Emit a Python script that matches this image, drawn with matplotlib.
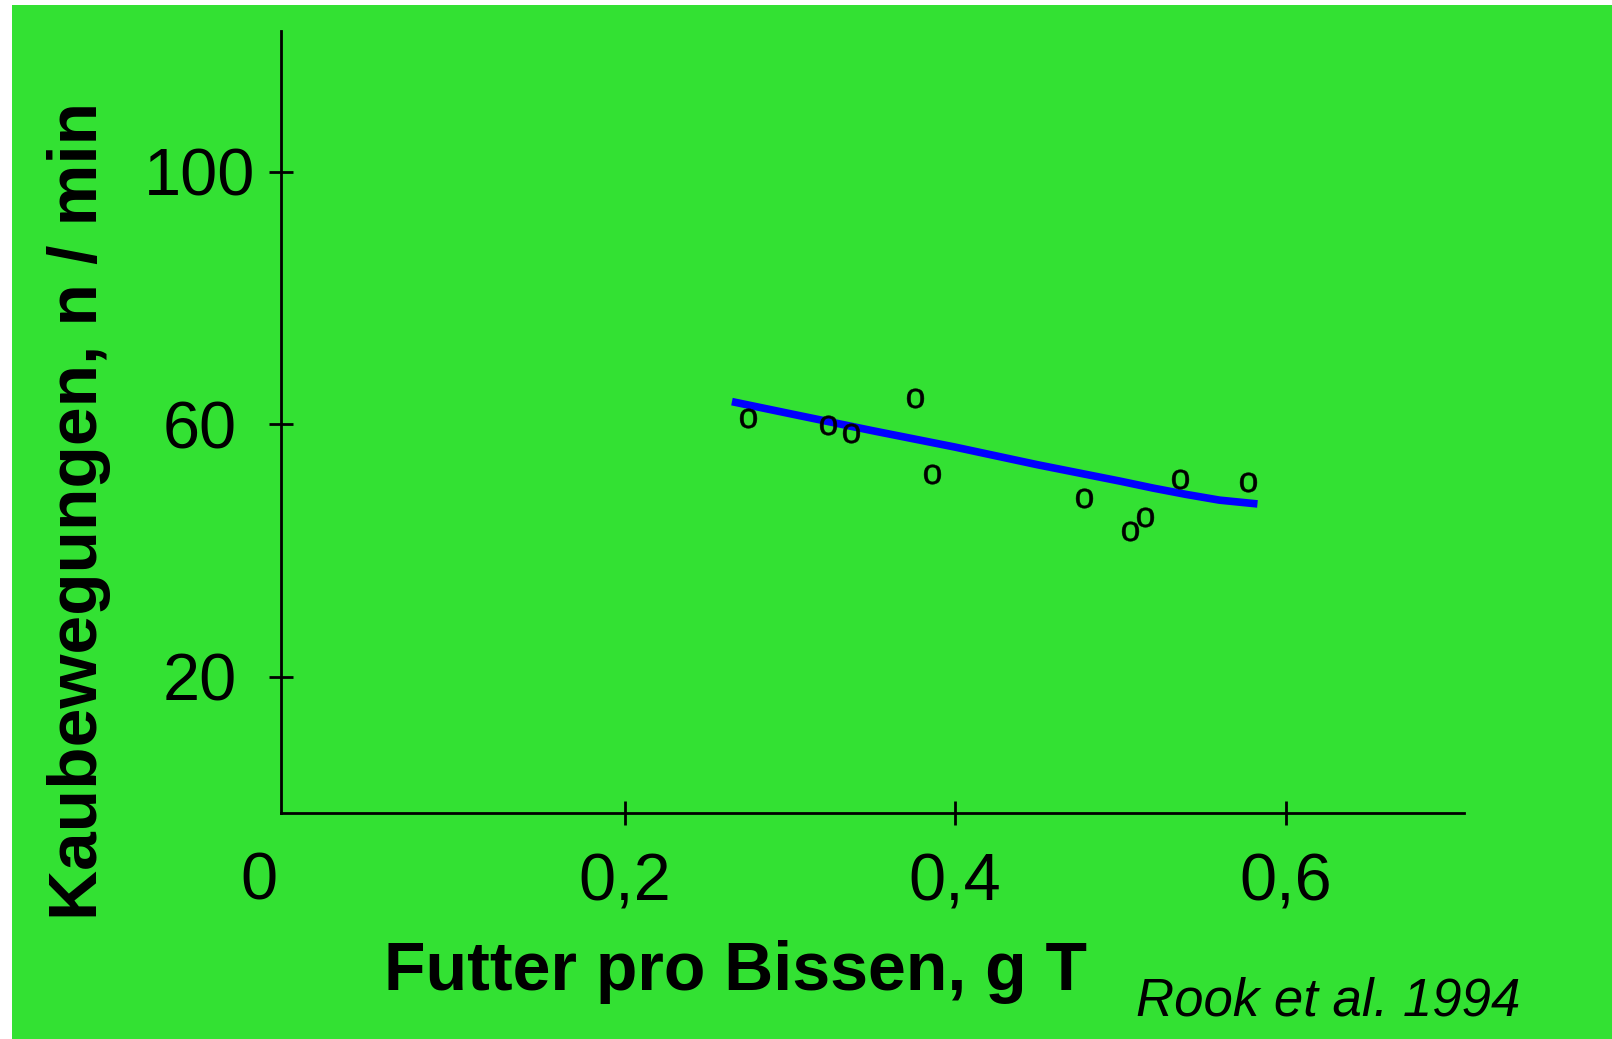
import matplotlib.pyplot as plt
from matplotlib.patches import Rectangle

# chewing movements vs. feed per bite (Rook et al. 1994)
bite_x = [0.275, 0.323, 0.337, 0.376, 0.386, 0.478, 0.506, 0.515, 0.536, 0.577]
chew_y = [61.0, 59.9, 58.6, 64.2, 52.1, 48.4, 43.1, 45.4, 51.3, 50.9]

fit_x = [0.265, 0.30, 0.35, 0.40, 0.45, 0.50, 0.52, 0.54, 0.56, 0.583]
fit_y = [63.6, 61.7, 59.0, 56.4, 53.6, 51.0, 49.9, 48.9, 48.0, 47.4]

xticks = [0.2, 0.4, 0.6]
xlabels = ['0,2', '0,4', '0,6']
yticks = [20, 60, 100]
ylabels = ['20', '60', '100']

green = '#33e133'
plt.rcParams['font.family'] = ['Liberation Sans', 'DejaVu Sans']

fig = plt.figure(figsize=(16.12, 10.39), dpi=100)
fig.patch.set_facecolor('white')
fig.patches.append(Rectangle((12 / 1612, 0), 1, 1 - 5 / 1039, transform=fig.transFigure,
                             facecolor=green, edgecolor='none', zorder=-10))

ax = fig.add_axes([0.1743, 0.2175, 0.7339, 0.7527])
ax.set_facecolor('none')

ax.plot(fit_x, fit_y, color='#0000ff', lw=5.5, solid_capstyle='butt', zorder=3)
ax.plot(bite_x, chew_y, ls='none', marker=r'$\mathregular{o}$', ms=14, mew=0.4,
        color='black', zorder=4)

ax.set_xlim(-0.0079, 0.708)
ax.set_ylim(-1.55, 122.3)

for s in ['top', 'right']:
    ax.spines[s].set_visible(False)
for s in ['left', 'bottom']:
    ax.spines[s].set_linewidth(2)

ax.set_xticks(xticks)
ax.set_xticklabels(xlabels)
ax.set_yticks(yticks)
ax.set_yticklabels(ylabels, ha='center')
ax.tick_params(axis='x', direction='inout', length=17, width=2, labelsize=48, pad=20)
ax.tick_params(axis='y', direction='inout', length=17, width=2, labelsize=48, pad=50)

fig.text(259 / 1612, 1 - 882 / 1039, '0', fontsize=48, ha='center', va='center')

fig.text(736 / 1612, 1 - 972 / 1039, 'Futter pro Bissen, g T', fontsize=49,
         fontweight='bold', ha='center', va='center')
fig.text(79 / 1612, 1 - 511 / 1039, 'Kaubewegungen, n / min', fontsize=50,
         fontweight='bold', rotation=90, ha='center', va='center')
fig.text(1136 / 1612, 1 - 1015 / 1039, 'Rook et al. 1994', fontsize=38,
         style='italic', ha='left', va='baseline')

fig.savefig('out.png', dpi=100, facecolor=fig.get_facecolor())
